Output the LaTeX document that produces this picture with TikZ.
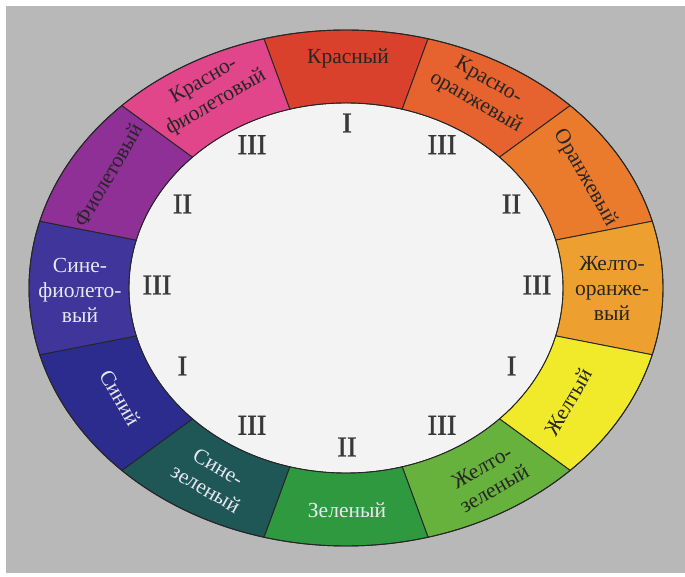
\documentclass[tikz,border=0pt]{standalone}
\usepackage{fontspec}
\setmainfont{Liberation Serif}
\newfontfamily\numfont[FakeBold=1.4]{Liberation Serif}
\usetikzlibrary{calc}

\definecolor{bggray}{HTML}{B8B8B8}
\definecolor{innerwhite}{HTML}{F3F3F3}
\definecolor{cred}{HTML}{D9412C}
\definecolor{credorange}{HTML}{E6622E}
\definecolor{corange}{HTML}{EB7B2C}
\definecolor{cyelloworange}{HTML}{EDA030}
\definecolor{cyellow}{HTML}{F1EA2A}
\definecolor{cyellowgreen}{HTML}{66B23C}
\definecolor{cgreen}{HTML}{2E993E}
\definecolor{cbluegreen}{HTML}{1F5656}
\definecolor{cblue}{HTML}{2C2C8E}
\definecolor{cblueviolet}{HTML}{40359A}
\definecolor{cviolet}{HTML}{8E3095}
\definecolor{credviolet}{HTML}{E2468A}
\definecolor{lighttext}{HTML}{E6E8F0}

\begin{document}
\begin{tikzpicture}[x=1pt,y=1pt,
	seg/.style={draw=black!85,line width=0.9pt},
	lbl/.style={
		font=\fontsize{21.5}{25}\selectfont,
		align=center,
		inner sep=0pt,
		text=black!85,
	},
	lbllight/.style={lbl,text=lighttext},
	num/.style={font=\numfont\fontsize{29}{29}\selectfont,text=black!78,inner sep=0pt},
]
	% page and grey paper
	\useasboundingbox (-346,-289) rectangle (339,288);
	\fill[white] (-346,-289) rectangle (339,288);
	\fill[bggray] (-340,-285) rectangle (339,282);

	% ring segments
	\foreach \t/\c in {90/cred,60/credorange,30/corange,0/cyelloworange,
		-30/cyellow,-60/cyellowgreen,-90/cgreen,-120/cbluegreen,
		-150/cblue,180/cblueviolet,150/cviolet,120/credviolet}{
		\pgfmathsetmacro{\a}{\t-15}
		\pgfmathsetmacro{\b}{\t+15}
		\filldraw[seg,fill=\c] (\a:317 and 258)
			arc[start angle=\a,end angle=\b,x radius=317,y radius=258]
			-- (\b:217 and 185)
			arc[start angle=\b,end angle=\a,x radius=217,y radius=185]
			-- cycle;
	}
	\fill[innerwhite] (0,0) ellipse[x radius=216.5,y radius=184.5];
	\draw[seg] (0,0) ellipse[x radius=317,y radius=258];
	\draw[seg] (0,0) ellipse[x radius=217,y radius=185];

	% colour names
	\node[lbl] (red) at (2,230) {Красный};
	\node[lbl,rotate=-30] (redorange) at (136,196) {Красно-\\оранжевый};
	\node[lbl,rotate=-60] (orange) at (239,110) {Оранжевый};
	\node[lbl] (yelloworange) at (266,0) {Желто-\\оранже-\\вый};
	\node[lbl,rotate=60] (yellow) at (222,-114) {Желтый};
	\node[lbl,rotate=30] (yellowgreen) at (142,-190) {Желто-\\зеленый};
	\node[lbllight] (green) at (1,-222) {Зеленый};
	\node[lbllight,rotate=-30] (bluegreen) at (-134,-190) {Сине-\\зеленый};
	\node[lbllight,rotate=-60] (blue) at (-226,-110) {Синий};
	\node[lbllight] (blueviolet) at (-266,-2) {Сине-\\фиолето-\\вый};
	\node[lbl,rotate=60] (violet) at (-238,113) {Фиолетовый};
	\node[lbl,rotate=30] (redviolet) at (-136,196) {Красно-\\фиолетовый};

	% colour orders
	\foreach \t/\r [count=\i] in {90/I,60/III,30/II,0/III,-30/I,-60/III,
		-90/II,-120/III,-150/I,180/III,150/II,120/III}{
		\node[num] (n\i) at ($(1,3)+(\t:190 and 162)$) {\r};
	}
%	\node[num] at (0,0) {};
\end{tikzpicture}
\end{document}
